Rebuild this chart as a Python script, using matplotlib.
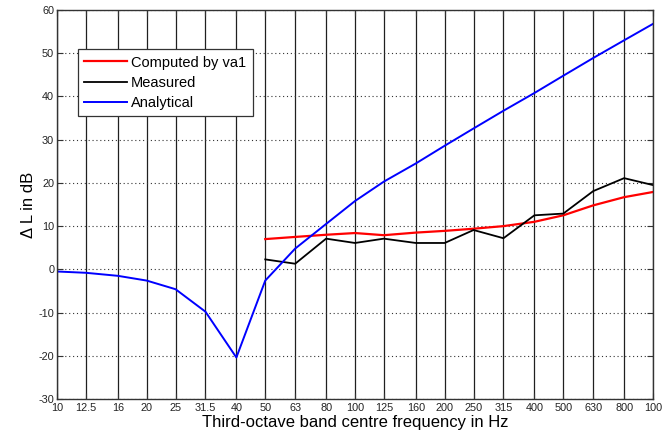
import matplotlib
matplotlib.use("Agg")
import matplotlib.pyplot as plt
from matplotlib.ticker import FixedLocator, NullLocator, FixedFormatter

plt.rcParams['font.family'] = ['Liberation Sans', 'DejaVu Sans']
plt.rcParams['axes.unicode_minus'] = False

freqs = [10, 12.5, 16, 20, 25, 31.5, 40, 50, 63, 80, 100, 125, 160, 200,
         250, 315, 400, 500, 630, 800, 1000]
tick_labels = ['10', '12.5', '16', '20', '25', '31.5', '40', '50', '63', '80',
               '100', '125', '160', '200', '250', '315', '400', '500', '630',
               '800', '100']

analytical = [-0.5, -0.8, -1.5, -2.6, -4.6, -9.8, -20.4, -2.6, 4.8, 10.5,
              15.8, 20.3, 24.5, 28.6, 32.6, 36.7, 40.8, 44.8, 48.9, 53.0, 56.8]

freqs_meas = [50, 63, 80, 100, 125, 160, 200, 250, 315, 400, 500, 630, 800, 1000]
computed = [7.0, 7.5, 8.0, 8.4, 7.9, 8.5, 8.9, 9.4, 10.0, 11.0, 12.5, 14.8, 16.7, 17.9]
measured = [2.3, 1.3, 7.1, 6.1, 7.1, 6.1, 6.1, 9.1, 7.2, 12.5, 12.9, 18.1, 21.1, 19.5]

fig = plt.figure(figsize=(6.7, 4.37), dpi=100)
ax = fig.add_axes([0.085, 0.087, 0.8896, 0.890])

ax.plot(freqs_meas, computed, color='#ff0000', lw=1.6, label='Computed by va1')
ax.plot(freqs_meas, measured, color='black', lw=1.3, label='Measured')
ax.plot(freqs, analytical, color='#0000ff', lw=1.4, label='Analytical')

ax.set_xscale('log')
ax.set_xlim(10, 1000)
ax.set_ylim(-30, 60)
ax.xaxis.set_major_locator(FixedLocator(freqs))
ax.xaxis.set_major_formatter(FixedFormatter(tick_labels))
ax.xaxis.set_minor_locator(NullLocator())
ax.set_yticks(range(-30, 61, 10))

for f in freqs:
    ax.axvline(f, color='#202020', lw=0.9, zorder=0.5)
ax.yaxis.grid(True, linestyle=(0, (1, 2.5)), color='#333333', lw=0.8)
ax.set_axisbelow(True)

ax.tick_params(axis='both', direction='in', length=4, width=0.8, labelsize=7.8,
               top=True, right=True, colors='#333333', labelcolor='#222222')
ax.tick_params(axis='x', pad=3)
ax.tick_params(axis='y', pad=2)
for s in ax.spines.values():
    s.set_color('#333333')
    s.set_linewidth(1.0)

ax.set_xlabel('Third-octave band centre frequency in Hz', fontsize=12, labelpad=1)
ax.set_ylabel('Δ L in dB', fontsize=12, labelpad=2)

leg = ax.legend(loc='upper left', bbox_to_anchor=(0.035, 0.90), fontsize=10.5,
                frameon=True, fancybox=False, edgecolor='#333333',
                handlelength=2.9, handletextpad=0.3, borderpad=0.45,
                labelspacing=0.42, borderaxespad=0)
leg.get_frame().set_linewidth(0.9)
leg.get_frame().set_alpha(1)

fig.savefig('out.png', dpi=100)
